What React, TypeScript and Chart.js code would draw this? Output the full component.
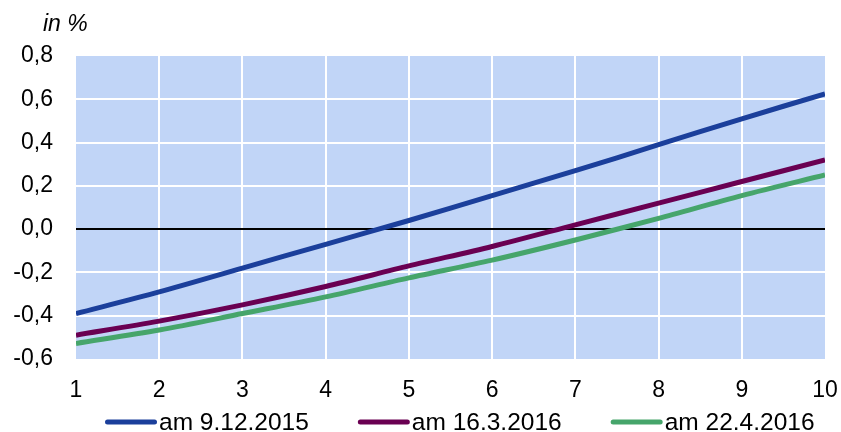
import React, { useEffect, useRef } from "react";
import { Chart, registerables } from "chart.js";

Chart.register(...registerables);

const xValues = [1, 2, 3, 4, 5, 6, 7, 8, 9, 10];
const series1Label = "am 9.12.2015";
const series1 = [-0.39, -0.29, -0.18, -0.07, 0.04, 0.155, 0.27, 0.39, 0.51, 0.625];
const series2Label = "am 16.3.2016";
const series2 = [-0.49, -0.425, -0.35, -0.265, -0.17, -0.08, 0.02, 0.12, 0.22, 0.32];
const series3Label = "am 22.4.2016";
const series3 = [-0.528, -0.466, -0.39, -0.313, -0.225, -0.143, -0.05, 0.05, 0.155, 0.25];
const yTitle = "in %";

const FONT = "'Liberation Sans', Arial, sans-serif";
const PLOT_BG = "#c1d5f7";

const bgPlugin = {
  id: "plotBg",
  beforeDraw(chart: any) {
    const { ctx, chartArea } = chart;
    ctx.save();
    ctx.fillStyle = PLOT_BG;
    ctx.fillRect(chartArea.left, chartArea.top, chartArea.right - chartArea.left, chartArea.bottom - chartArea.top);
    ctx.restore();
  },
  afterDraw(chart: any) {
    const { ctx, chartArea } = chart;
    ctx.save();
    // y title
    ctx.font = `italic 23px ${FONT}`;
    ctx.fillStyle = "#000";
    ctx.textAlign = "left";
    ctx.textBaseline = "alphabetic";
    ctx.fillText(yTitle, chartArea.left - 33, 31);
    // legend
    ctx.font = `24.5px ${FONT}`;
    ctx.textBaseline = "middle";
    const lineLen = 52;
    const gapText = 2;
    const gapItem = 49;
    let x = chartArea.left + 29;
    const y = 422;
    chart.data.datasets.forEach((ds: any) => {
      ctx.strokeStyle = ds.borderColor;
      ctx.lineWidth = 5;
      ctx.lineCap = "round";
      ctx.beginPath();
      ctx.moveTo(x + 2.5, y);
      ctx.lineTo(x + lineLen - 2.5, y);
      ctx.stroke();
      ctx.fillStyle = "#000";
      ctx.fillText(ds.label, x + lineLen + gapText, y + 1);
      const w = ctx.measureText(ds.label).width;
      x += lineLen + gapText + w + gapItem;
    });
    ctx.restore();
  },
};

export default function App() {
  const ref = useRef<HTMLCanvasElement | null>(null);
  useEffect(() => {
    const canvas = ref.current;
    if (!canvas) return;
    const mk = (label: string, ys: number[], color: string) => ({
      label,
      data: xValues.map((x, i) => ({ x, y: ys[i] })),
      borderColor: color,
      backgroundColor: color,
      borderWidth: 5,
      pointRadius: 0,
      tension: 0.3,
      fill: false,
    });
    const chart = new Chart(canvas, {
      type: "line",
      data: {
        datasets: [
          mk(series1Label, series1, "#1b3f9b"),
          mk(series2Label, series2, "#6a0052"),
          mk(series3Label, series3, "#46a56b"),
        ],
      },
      options: {
        responsive: false,
        animation: false,
        layout: { padding: { top: 56, right: 16, left: 0, bottom: 0 } },
        plugins: {
          legend: { display: false },
          tooltip: { enabled: false },
          title: { display: false },
        },
        scales: {
          x: {
            type: "linear",
            min: 1,
            max: 10,
            border: { display: false },
            afterFit: (s: any) => {
              s.height = 73;
              s.paddingLeft = 0;
              s.paddingRight = 0;
            },
            ticks: {
              stepSize: 1,
              padding: 18,
              color: "#000",
              font: { family: FONT, size: 23 },
              maxRotation: 0,
            },
            grid: {
              drawTicks: false,
              lineWidth: 2,
              color: (c: any) =>
                c.tick && (c.tick.value === 1 || c.tick.value === 10) ? "rgba(0,0,0,0)" : "#ffffff",
            },
          },
          y: {
            min: -0.6,
            max: 0.8,
            border: { display: false },
            afterFit: (s: any) => {
              s.width = 76;
              s.paddingTop = 0;
              s.paddingBottom = 0;
            },
            ticks: {
              stepSize: 0.2,
              padding: 23,
              color: "#000",
              font: { family: FONT, size: 23 },
              callback: (v: any) => Number(v).toFixed(1).replace(".", ",").replace("-0,0", "0,0"),
            },
            grid: {
              drawTicks: false,
              lineWidth: 2,
              color: (c: any) => {
                if (!c.tick) return "#fff";
                const v = Math.round(c.tick.value * 10) / 10;
                if (v === 0) return "#000";
                if (v === -0.6 || v === 0.8) return "rgba(0,0,0,0)";
                return "#ffffff";
              },
            },
          },
        },
      },
      plugins: [bgPlugin],
    });
    return () => chart.destroy();
  }, []);
  return (
    <div style={{ position: "fixed", left: 0, top: 0, width: 841, height: 432, background: "#fff" }}>
      <canvas ref={ref} width={841} height={432} style={{ width: 841, height: 432, display: "block" }} />
    </div>
  );
}
